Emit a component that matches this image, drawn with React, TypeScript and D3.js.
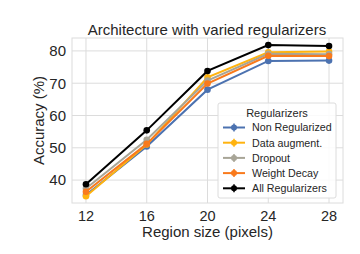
import { useEffect, useRef } from 'react'
import * as d3 from 'd3'

const regionSizes = [12, 16, 20, 24, 28]
const nonRegularized = [35.4, 50.4, 68.0, 76.9, 77.0]
const dataAugment = [35.0, 51.0, 71.8, 79.6, 79.8]
const dropout = [37.4, 52.5, 70.8, 79.1, 79.0]
const weightDecay = [36.4, 51.2, 69.9, 78.5, 78.4]
const allRegularizers = [38.7, 55.4, 73.8, 81.8, 81.5]

const seriesNames = ['Non Regularized', 'Data augment.', 'Dropout', 'Weight Decay', 'All Regularizers']
const seriesColors = ['#4c72b0', '#ffb30f', '#a8a597', '#f97a1c', '#000000']
const yTicks = [40, 50, 60, 70, 80]

const FONT = 'Liberation Sans, Arial, sans-serif'

export default function App() {
  const svgRef = useRef<SVGSVGElement>(null)
  const width = 360
  const height = 254

  useEffect(() => {
    if (!svgRef.current) return
    const svg = d3.select(svgRef.current)
    svg.selectAll('*').remove()

    const left = 72
    const right = 343
    const top = 38
    const bottom = 203

    const series = [nonRegularized, dataAugment, dropout, weightDecay, allRegularizers]

    const x = d3.scaleLinear().domain([11.08, 28.92]).range([left, right])
    const y = d3.scaleLinear().domain([32.9, 84.0]).range([bottom, top])

    // background + grid
    svg.append('rect').attr('width', width).attr('height', height).attr('fill', '#fff')

    const grid = svg.append('g')
    grid.selectAll('line.gx')
      .data(regionSizes)
      .enter()
      .append('line')
      .attr('x1', (d) => x(d))
      .attr('x2', (d) => x(d))
      .attr('y1', top)
      .attr('y2', bottom)
      .attr('stroke', '#dcdcdc')
      .attr('stroke-width', 1)
    grid.selectAll('line.gy')
      .data(yTicks)
      .enter()
      .append('line')
      .attr('x1', left)
      .attr('x2', right)
      .attr('y1', (d) => y(d))
      .attr('y2', (d) => y(d))
      .attr('stroke', '#dcdcdc')
      .attr('stroke-width', 1)

    svg.append('rect')
      .attr('x', left)
      .attr('y', top)
      .attr('width', right - left)
      .attr('height', bottom - top)
      .attr('fill', 'none')
      .attr('stroke', '#dcdcdc')
      .attr('stroke-width', 1)

    // tick labels
    svg.append('g')
      .selectAll('text')
      .data(regionSizes)
      .enter()
      .append('text')
      .attr('x', (d) => x(d))
      .attr('y', 221)
      .attr('text-anchor', 'middle')
      .attr('font-family', FONT)
      .attr('font-size', 14.5)
      .attr('fill', '#262626')
      .text((d) => d)

    svg.append('g')
      .selectAll('text')
      .data(yTicks)
      .enter()
      .append('text')
      .attr('x', 66)
      .attr('y', (d) => y(d))
      .attr('dy', '0.36em')
      .attr('text-anchor', 'end')
      .attr('font-family', FONT)
      .attr('font-size', 15)
      .attr('fill', '#262626')
      .text((d) => d)

    // axis labels + title
    svg.append('text')
      .attr('x', (left + right) / 2)
      .attr('y', 237)
      .attr('text-anchor', 'middle')
      .attr('font-family', FONT)
      .attr('font-size', 15)
      .attr('fill', '#262626')
      .text('Region size (pixels)')

    svg.append('text')
      .attr('transform', `translate(44,${(top + bottom) / 2}) rotate(-90)`)
      .attr('text-anchor', 'middle')
      .attr('font-family', FONT)
      .attr('font-size', 15)
      .attr('fill', '#262626')
      .text('Accuracy (%)')

    svg.append('text')
      .attr('x', 207)
      .attr('y', 35)
      .attr('text-anchor', 'middle')
      .attr('font-family', FONT)
      .attr('font-size', 15)
      .attr('fill', '#262626')
      .text('Architecture with varied regularizers')

    // lines
    const line = d3.line<number>()
      .x((_, i) => x(regionSizes[i]))
      .y((d) => y(d))

    series.forEach((vals, si) => {
      svg.append('path')
        .datum(vals)
        .attr('d', line)
        .attr('fill', 'none')
        .attr('stroke', seriesColors[si])
        .attr('stroke-width', 2)
      svg.append('g')
        .selectAll('circle')
        .data(vals)
        .enter()
        .append('circle')
        .attr('cx', (_, i) => x(regionSizes[i]))
        .attr('cy', (d) => y(d))
        .attr('r', 3.3)
        .attr('fill', seriesColors[si])
    })

    // legend
    const lg = svg.append('g').attr('transform', 'translate(218,103)')
    lg.append('rect')
      .attr('width', 118)
      .attr('height', 95)
      .attr('rx', 2)
      .attr('fill', 'rgba(255,255,255,0.85)')
      .attr('stroke', '#dcdcdc')
    lg.append('text')
      .attr('x', 59)
      .attr('y', 14)
      .attr('text-anchor', 'middle')
      .attr('font-family', FONT)
      .attr('font-size', 11)
      .attr('fill', '#262626')
      .text('Regularizers')

    seriesNames.forEach((name, i) => {
      const yy = 24.5 + i * 15.2
      const row = lg.append('g').attr('transform', `translate(0,${yy})`)
      row.append('line')
        .attr('x1', 5)
        .attr('x2', 27)
        .attr('stroke', seriesColors[i])
        .attr('stroke-width', 2)
      row.append('line')
        .attr('x1', 16)
        .attr('x2', 16)
        .attr('y1', -4)
        .attr('y2', 4)
        .attr('stroke', seriesColors[i])
        .attr('stroke-width', 1.5)
      row.append('circle')
        .attr('cx', 16)
        .attr('r', 3)
        .attr('fill', seriesColors[i])
      row.append('text')
        .attr('x', 34)
        .attr('dy', '0.36em')
        .attr('font-family', FONT)
        .attr('font-size', 10.7)
        .attr('fill', '#262626')
        .text(name)
    })
  }, [])

  return (
    <div style={{ position: 'absolute', left: 0, top: 0 }}>
      <svg ref={svgRef} width={width} height={height} style={{ display: 'block' }} />
    </div>
  )
}
